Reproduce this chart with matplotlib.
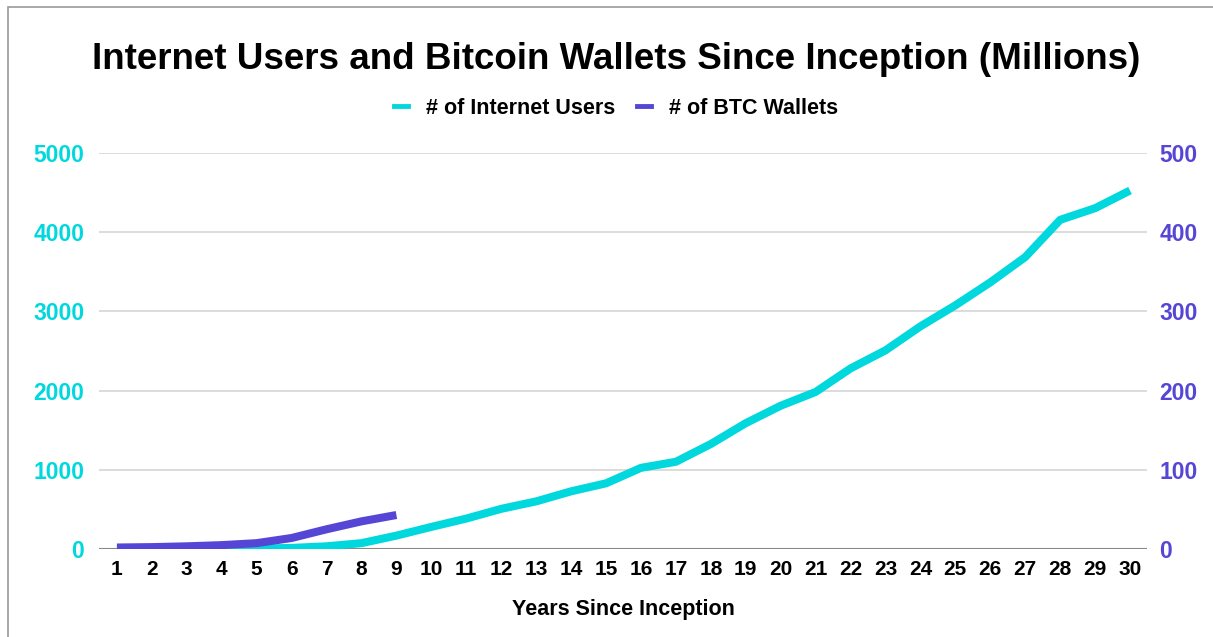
import matplotlib.pyplot as plt
from matplotlib.lines import Line2D
from matplotlib.patches import Rectangle

plt.rcParams['font.family'] = ['Liberation Sans', 'DejaVu Sans']

CYAN = '#00D8DE'
PURPLE = '#5646D6'

years = list(range(1, 31))
internet_users = [0, 1, 2, 3, 6, 15, 35, 75, 170, 280, 385,
                  508, 602, 729, 830, 1025, 1102, 1326, 1589, 1809, 1983,
                  2280, 2508, 2811, 3076, 3366, 3685, 4155, 4302, 4525]
btc_years = list(range(1, 10))
btc_wallets = [2, 2.5, 3.5, 5, 7.5, 14, 25, 35, 43]

fig = plt.figure(figsize=(12.13, 6.37), dpi=100)
ax = fig.add_axes([0.082, 0.138, 0.864, 0.622])
ax2 = ax.twinx()

ax.plot(years, internet_users, color=CYAN, lw=5.8, solid_capstyle='butt')
ax2.plot(btc_years, btc_wallets, color=PURPLE, lw=5.8, solid_capstyle='butt')

ax.set_xlim(0.5, 30.5)
ax.set_ylim(0, 5000)
ax2.set_ylim(0, 500)
ax.set_yticks(range(0, 5001, 1000))
ax2.set_yticks(range(0, 501, 100))
ax.set_xticks(years)

ax.grid(axis='y', color='#d6d6d6', lw=1.2)
ax.set_axisbelow(True)
for a in (ax, ax2):
    for s in a.spines.values():
        s.set_visible(False)
    a.tick_params(length=0)
ax.axhline(0, color='#888888', lw=1.5, zorder=1)

ax.tick_params(axis='y', labelcolor=CYAN, labelsize=16.5, pad=11)
ax2.tick_params(axis='y', labelcolor=PURPLE, labelsize=16.5, pad=8.5)
ax.tick_params(axis='x', labelsize=15, pad=8)
for lab in ax.get_xticklabels() + ax.get_yticklabels() + ax2.get_yticklabels():
    lab.set_fontweight('bold')

ax.set_xlabel('Years Since Inception', fontsize=15.5, fontweight='bold', labelpad=14)

fig.text(0.508, 0.906, 'Internet Users and Bitcoin Wallets Since Inception (Millions)',
         ha='center', va='center', fontsize=26.5, fontweight='bold')

handles = [Line2D([], [], color=CYAN, lw=3.5), Line2D([], [], color=PURPLE, lw=3.5)]
fig.legend(handles=handles, labels=['# of Internet Users', '# of BTC Wallets'],
           loc='center', bbox_to_anchor=(0.508, 0.83), ncol=2, frameon=False,
           handlelength=0.65, columnspacing=1.0, handletextpad=0.85,
           prop={'size': 15.5, 'weight': 'bold'})

# outer frame
fig.patches.append(Rectangle((8 / 1213, -0.1), 1.2, 1 - 7 / 637 + 0.1,
                             transform=fig.transFigure, fill=False,
                             edgecolor='#9a9a9a', lw=1.2))

fig.savefig('out.png', dpi=100)
